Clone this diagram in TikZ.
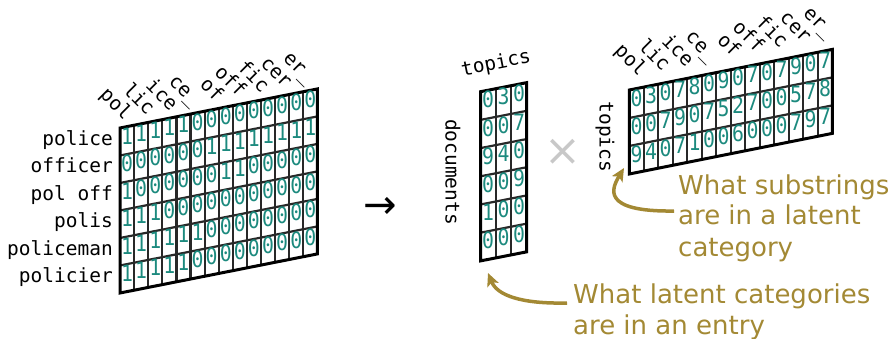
\documentclass[tikz,border=0pt]{standalone}
\usepackage{fontspec}
\setmainfont{DejaVu Sans}
\newfontfamily\monof{DejaVu Sans Mono}
\newfontfamily\digitf[FakeStretch=0.88]{DejaVu Sans Mono}
\usetikzlibrary{arrows.meta}
\definecolor{tealc}{RGB}{28,138,126}
\definecolor{olivec}{RGB}{163,137,52}
\definecolor{gridc}{RGB}{40,40,40}
\definecolor{crossc}{RGB}{200,200,200}
\tikzset{
 digit/.style={font=\digitf\fontsize{22.5}{22.5}\selectfont, text=tealc, inner sep=0pt, text height=0.73em, text depth=0pt},
 rowlab/.style={font=\monof\fontsize{19.5}{19.5}\selectfont, inner sep=0pt, anchor=east, text height=0.73em, text depth=0pt},
 collab/.style={font=\monof\fontsize{19.5}{19.5}\selectfont, inner sep=0pt, anchor=east, rotate=-45, text height=0.73em, text depth=0.2em},
 axlab/.style={font=\monof\fontsize{19.5}{19.5}\selectfont, inner sep=0pt},
 gridline/.style={draw=gridc, line width=2.2pt},
 border/.style={draw=black, line width=3pt, line join=miter},
 note/.style={font=\fontsize{26}{26}\selectfont, text=olivec, inner sep=0pt, anchor=base west},
 notearrow/.style={draw=olivec, line width=3.5pt, -{Stealth[length=13pt,width=12pt,inset=3pt]}},
}
% #1 x0, #2 y0, #3 w, #4 h, #5 slope, #6 ncols, #7 nrows
\newcommand{\matgrid}[7]{%
 \pgfmathtruncatemacro\mgc{#6-1}%
 \pgfmathtruncatemacro\mgr{#7-1}%
 \foreach \ii in {1,...,\mgc}{\draw[gridline] ({#1+#3*\ii},{#2+(#5)*#3*\ii}) -- ++(0,{#4*#7});}%
 \foreach \jj in {1,...,\mgr}{\draw[gridline] (#1,{#2+#4*\jj}) -- ++({#3*#6},{(#5)*#3*#6});}%
 \draw[border] (#1,#2) -- ({#1+#3*#6},{#2+(#5)*#3*#6}) -- ({#1+#3*#6},{#2+(#5)*#3*#6+#4*#7}) -- (#1,{#2+#4*#7}) -- cycle;%
}
% #1 name, #2 x0, #3 y0, #4 w, #5 h, #6 slope, #7 rows
\newcommand{\matdigits}[7]{%
 \foreach \rowlist [count=\ri] in {#7}{%
  \foreach \dd [count=\ci] in \rowlist {%
   \node[digit] (#1-\ri-\ci) at ({#2+#4*(\ci-0.5)},{#3+(#6)*#4*(\ci-0.5)+#5*(\ri-0.5)}) {\dd};
  }}%
}
% #1 name, #2 x0, #3 y0, #4 w, #5 slope, #6 dx, #7 dy
\newcommand{\matcollabels}[7]{%
 \foreach \lab [count=\kk from 0] in {pol,lic,ice,ce\_,of,off,fic,cer,er\_}{%
  \pgfmathsetmacro\cc{1+13*\kk/8-0.5}%
  \node[collab] (#1-lab-\kk) at ({#2+#4*\cc+#6},{#3+(#5)*#4*\cc+#7}) {\lab};
 }%
}
\begin{document}
\begin{tikzpicture}[x=1pt,y=-1pt]
\useasboundingbox (0,0) rectangle (891,339);
% ---------- left matrix ----------
\matgrid{120}{128}{14.1}{27.5}{-0.198}{14}{6}
\matdigits{L}{120}{128}{14.1}{27.5}{-0.198}{%
 {1,1,1,1,1,0,0,0,0,0,0,0,0,0},
 {0,0,0,0,0,0,1,1,1,1,1,1,1,1},
 {1,0,0,0,0,0,0,1,1,0,0,0,0,0},
 {1,1,1,0,0,0,0,0,0,0,0,0,0,0},
 {1,1,1,1,1,1,0,0,0,0,0,0,0,0},
 {1,1,1,1,1,0,0,0,0,0,0,0,0,0}}
\matcollabels{L}{120}{128}{14.1}{-0.198}{-1}{-7.6}
\foreach \lab [count=\ri] in {police,officer,pol off,polis,policeman,policier}{%
 \node[rowlab] (L-row-\ri) at (113,{128+27.5*(\ri-0.5)}) {\lab};
}
% ---------- arrow ----------
\node[font=\fontsize{40}{40}\selectfont, inner sep=0pt] (arrowsym) at (380,208) {→};
% ---------- middle matrix ----------
\matgrid{480.5}{91.7}{15.4}{28.2}{-0.196}{3}{6}
\matdigits{M}{480.5}{91.7}{15.4}{28.2}{-0.196}{%
 {0,3,0},{0,0,7},{9,4,0},{0,0,9},{1,0,0},{0,0,0}}
\node[axlab, rotate=11.3] (M-top) at (496,64) {topics};
\node[axlab, rotate=-90] (M-side) at (453,172) {documents};
% ---------- times ----------
\node[font=\fontsize{44}{44}\selectfont, text=crossc, inner sep=0pt] (times) at (563,152) {×};
% ---------- right matrix ----------
\matgrid{629.3}{90}{14.5}{28}{-0.2}{14}{3}
\matdigits{R}{629.3}{90}{14.5}{28}{-0.2}{%
 {0,3,0,7,8,0,9,0,7,0,7,9,0,7},
 {0,0,7,9,0,7,5,2,7,0,0,5,7,8},
 {9,4,0,7,1,0,0,6,0,0,0,7,9,7}}
\matcollabels{R}{629.3}{90}{14.5}{-0.2}{4.2}{-13.4}
\node[axlab, rotate=-90] (R-side) at (605,137) {topics};
% ---------- notes ----------
\node[note] (n1a) at (678,194) {What substrings};
\node[note] (n1b) at (678,225) {are in a latent};
\node[note] (n1c) at (678,256) {category};
\node[note] (n2a) at (573,303) {What latent categories};
\node[note] (n2b) at (573,334) {are in an entry};
\coordinate (a1s) at (674,211);
\coordinate (a1e) at (624,168);
\coordinate (a2s) at (567,303);
\coordinate (a2e) at (488,273);
\draw[notearrow] (a1s) .. controls (600,212) and (612,188) .. (a1e);
\draw[notearrow] (a2s) .. controls (520,304) and (497,295) .. (a2e);
\end{tikzpicture}
\end{document}
